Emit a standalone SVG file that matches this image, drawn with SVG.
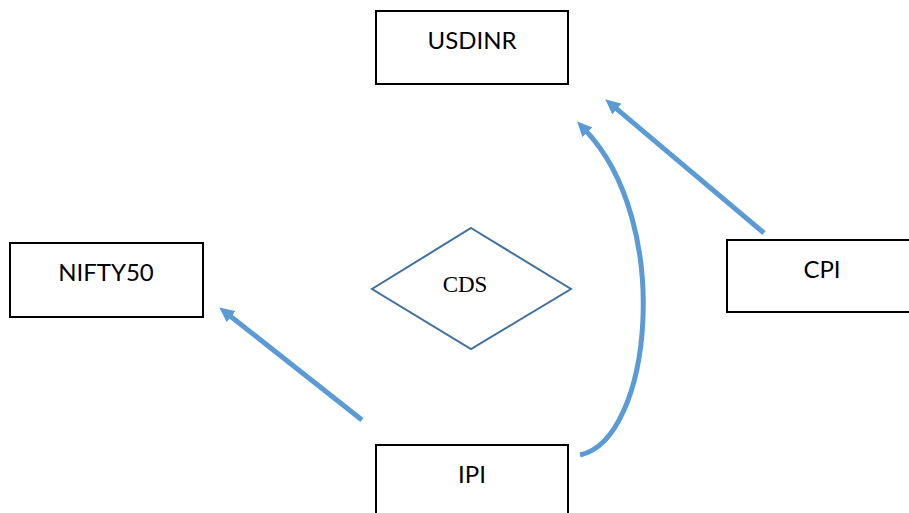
<svg xmlns="http://www.w3.org/2000/svg" width="909" height="513" viewBox="0 0 909 513">
  <style>
    .box { fill: #ffffff; stroke: #000000; stroke-width: 2; }
    .lbl { font-family: Lato, "Open Sans", "Liberation Sans", sans-serif; font-size: 24px; fill: #000000; text-anchor: middle; }
    .dia { fill: #ffffff; stroke: #41719c; stroke-width: 2; }
    .dlbl { font-family: "Liberation Serif", serif; font-size: 23px; fill: #000000; text-anchor: middle; }
    .link { fill: none; stroke: #5b9bd5; stroke-width: 5; marker-end: url(#head); }
  </style>
  <defs>
    <marker id="head" markerUnits="userSpaceOnUse" markerWidth="16" markerHeight="14" refX="4" refY="7" orient="auto">
      <path d="M0,0 L15,7 L0,14 z" fill="#5b9bd5"/>
    </marker>
  </defs>
  <rect width="909" height="513" fill="#ffffff"/>

  <g id="usdinr">
    <rect class="box" x="376" y="11" width="192" height="73"/>
    <text class="lbl" x="472" y="49">USDINR</text>
  </g>
  <g id="nifty50">
    <rect class="box" x="10" y="243" width="193" height="74"/>
    <text class="lbl" x="106" y="281">NIFTY50</text>
  </g>
  <g id="cpi">
    <rect class="box" x="727" y="240" width="190" height="72"/>
    <text class="lbl" x="822" y="278">CPI</text>
  </g>
  <g id="ipi">
    <rect class="box" x="376" y="445" width="192" height="80"/>
    <text class="lbl" x="472" y="483">IPI</text>
  </g>
  <g id="cds">
    <polygon class="dia" points="471,228 571,289 471,349 372,289"/>
    <text class="dlbl" x="465" y="292">CDS</text>
  </g>

  <g id="connectors">
    <line class="link" x1="764" y1="233" x2="613.7" y2="106.4"/>
    <line class="link" x1="362" y1="420" x2="227.9" y2="314.2"/>
    <path class="link" d="M580,455 C652,440 674,222 584.7,129.4"/>
  </g>
</svg>
